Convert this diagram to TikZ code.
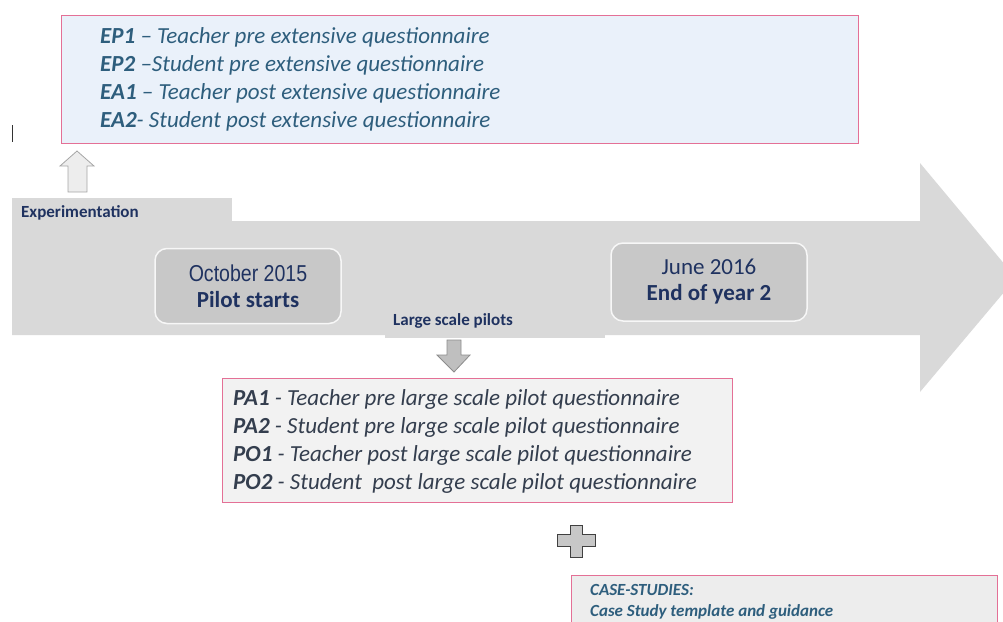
\documentclass[tikz,border=0pt]{standalone}
\usepackage{fontspec}
\setmainfont{Carlito}
\newfontfamily\narrowsans[FakeStretch=0.85]{Liberation Sans}
\usetikzlibrary{positioning}
\definecolor{pinkline}{RGB}{228,112,150}
\definecolor{topfill}{RGB}{234,241,250}
\definecolor{midfill}{RGB}{242,242,242}
\definecolor{casefill}{RGB}{237,237,237}
\definecolor{tealtext}{RGB}{46,94,125}
\definecolor{slatetext}{RGB}{52,62,78}
\definecolor{navytext}{RGB}{31,50,96}
\definecolor{bandgrey}{RGB}{217,217,217}
\definecolor{datefill}{RGB}{200,200,200}
\tikzset{
  qline/.style={anchor=base west, inner sep=0pt, font=\fontsize{23}{26}\selectfont\itshape},
  tag/.style={anchor=base west, inner sep=0pt, text=navytext, font=\fontsize{17}{19}\selectfont\bfseries},
  casetext/.style={anchor=base west, inner sep=0pt, text=tealtext, font=\fontsize{17}{19}\selectfont\bfseries\itshape},
  datebox/.style={draw=white!85!datefill, line width=1.5pt, fill=datefill, rounded corners=12pt,
    minimum width=186pt, minimum height=75pt, align=center, text=navytext, font=\fontsize{23}{26}\selectfont}
}

\begin{document}
\begin{tikzpicture}[x=1pt,y=-1pt]
  \useasboundingbox (0,0) rectangle (1003,621);
  \clip (0,0) rectangle (1003,621);
 % timeline band
 \fill [bandgrey] (12,221) -- (920,221) -- (920,163) -- (1016,278) -- (920,392) -- (920,335) -- (12,335) -- cycle;
\fill [bandgrey] (12,198) rectangle (232,221);
\fill [bandgrey] (385,334) rectangle (605,338);
\node[tag] (expt) at (21,217) {Experimentation};
\node[tag] (lsp) at (393,325) {Large scale pilots};
\node[datebox] (oct) at (248,286) {{\narrowsans October 2015}\\\textbf{Pilot starts}};
\node[datebox, minimum width=196pt, minimum height=78pt] (jun) at (709,282) {June 2016\\\textbf{End of year 2}};
 % experimentation box
\filldraw [draw=pinkline, fill=topfill, line width=1pt] (61,15) rectangle (858,143);
\node[qline, text=tealtext] (ep1) at (100,43) {\textbf{EP1} -- Teacher pre extensive questionnaire};
\node[qline, text=tealtext] (ep2) at (100,71) {\textbf{EP2} --Student pre extensive questionnaire};
\node[qline, text=tealtext] (ea1) at (100,99) {\textbf{EA1} -- Teacher post extensive questionnaire};
\node[qline, text=tealtext] (ea2) at (100,127) {\textbf{EA2}- Student post extensive questionnaire};
\draw [black!80, line width=1pt] (12,125) -- (12,142);
\filldraw [draw=black!35, fill=black!7, line width=0.8pt] (68,192) -- (68,166) -- (60,166) -- (77,151) -- (94,166) -- (87,166) -- (87,192) -- cycle;
 % large scale pilot box
\filldraw [draw=black!45, fill=black!25, line width=0.8pt] (447,340) -- (461,340) -- (461,355) -- (470,355) -- (454,372) -- (437,355) -- (447,355) -- cycle;
\filldraw [draw=pinkline, fill=midfill, line width=1pt] (222,378) rectangle (732,502);
\node[qline, text=slatetext] (pa1) at (233,405) {\textbf{PA1} - Teacher pre large scale pilot questionnaire};
\node[qline, text=slatetext] (pa2) at (233,433) {\textbf{PA2} - Student pre large scale pilot questionnaire};
\node[qline, text=slatetext] (po1) at (233,461) {\textbf{PO1} - Teacher post large scale pilot questionnaire};
\node[qline, text=slatetext] (po2) at (233,489) {\textbf{PO2} - Student~ post large scale pilot questionnaire};
 % plus and case studies
\filldraw [draw=black!75, fill=black!22, line width=1pt] (570,525) -- (582,525) -- (582,534) -- (595,534) -- (595,546) -- (582,546) -- (582,557) -- (570,557) -- (570,546) -- (557,546) -- (557,534) -- (570,534) -- cycle;
\filldraw [draw=pinkline, fill=casefill, line width=1pt] (571,575) rectangle (997,640);
\node[casetext] (cs) at (590,595) {CASE-STUDIES:};
\node[casetext] (cst) at (590,616) {Case Study template and guidance};
\end{tikzpicture}
\end{document}
